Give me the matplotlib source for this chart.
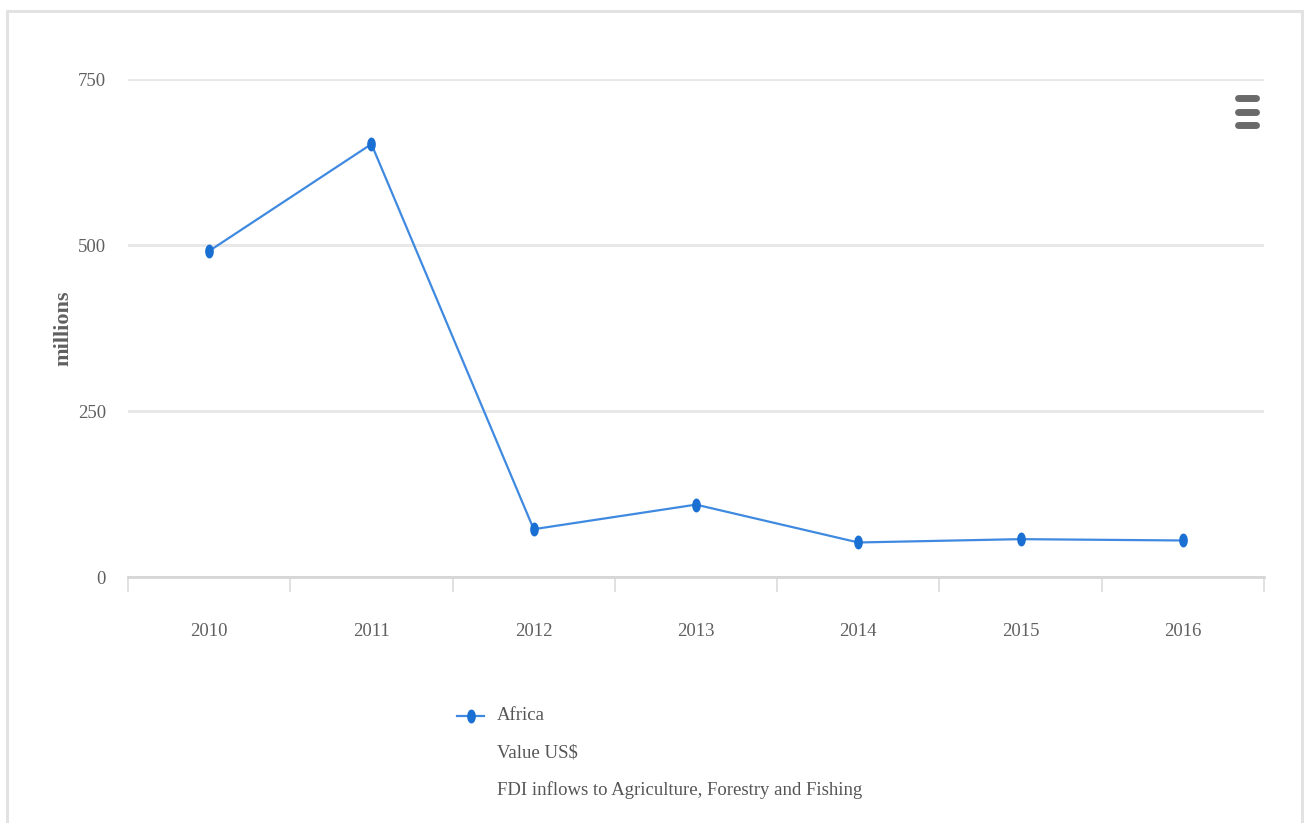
import numpy as np
import matplotlib
matplotlib.use("Agg")
import matplotlib.pyplot as plt
from matplotlib.lines import Line2D
from matplotlib.patches import Rectangle
from matplotlib.path import Path

# data
years = ["2010", "2011", "2012", "2013", "2014", "2015", "2016"]
values = [491, 652, 72, 109, 52, 57, 55]
series_name = "Africa"
legend_lines = ["Value US$", "FDI inflows to Agriculture, Forestry and Fishing"]
y_ticks = [0, 250, 500, 750]
y_label = "millions"

W, H = 1309, 823
plt.rcParams["font.family"] = ["Liberation Serif", "DejaVu Serif"]

fig = plt.figure(figsize=(W / 100, H / 100), dpi=100)
fig.patch.set_facecolor("white")


def fx(px):
    return px / W


def fy(py):
    return 1 - py / H


# outer card frame
fig.add_artist(Rectangle((fx(7), fy(900)), fx(1302) - fx(7), fy(11) - fy(900),
                         transform=fig.transFigure, fill=False,
                         edgecolor="#e2e2e2", lw=2.2))

ax = fig.add_axes([fx(128), fy(577), fx(1264) - fx(128), fy(79) - fy(577)])

# tall elliptical point marker
t = np.linspace(0, 2 * np.pi, 41)
ell = Path(np.column_stack([0.58 * np.cos(t), np.sin(t)]), closed=True)

x = np.arange(len(years))
ax.plot(x, values, color="#3f8ae0", lw=1.6, marker=ell, markersize=9,
        markerfacecolor="#1a6fd3", markeredgecolor="#1a6fd3", zorder=3)

ax.set_xlim(-0.5, len(years) - 0.5)
ax.set_ylim(0, 750)
ax.set_yticks(y_ticks)
ax.set_yticklabels([str(v) for v in y_ticks])
ax.set_xticks(x)
ax.set_xticklabels(years)
ax.set_xticks(np.arange(-0.5, len(years)), minor=True)

for s in ["top", "right", "left"]:
    ax.spines[s].set_visible(False)
ax.spines["bottom"].set_color("#d6d6d6")
ax.spines["bottom"].set_linewidth(2)

ax.grid(axis="y", color="#e8e8e8", lw=2.2)
ax.set_axisbelow(True)
ax.tick_params(axis="y", length=0, pad=16, labelsize=13.5, labelcolor="#606060")
ax.tick_params(axis="x", which="major", length=0, pad=33, labelsize=13.5,
               labelcolor="#606060")
ax.tick_params(axis="x", which="minor", length=11, width=1.2, color="#dcdcdc")

ax.set_ylabel(y_label, fontsize=16, fontweight="bold", color="#606060",
              labelpad=3)

# legend drawn by hand: symbol + three text lines
fig.add_artist(Line2D([fx(457), fx(484)], [fy(716), fy(716)],
                      transform=fig.transFigure, color="#3f8ae0", lw=1.6))
fig.add_artist(Line2D([fx(470.5)], [fy(716)], transform=fig.transFigure,
                      marker=ell, markersize=9, color="#1a6fd3", lw=0))
fig.text(fx(497), fy(716), series_name, fontsize=13.5, color="#555555",
         ha="left", va="center")
for i, txt in enumerate(legend_lines):
    fig.text(fx(497), fy(753 + 37 * i), txt, fontsize=13.5, color="#555555",
             ha="left", va="center")

# hamburger menu icon
for yy in [98, 112, 125]:
    fig.add_artist(Line2D([fx(1238), fx(1256)], [fy(yy), fy(yy)],
                          transform=fig.transFigure, color="#6a6a6a", lw=5,
                          solid_capstyle="round"))

fig.savefig("out.png", dpi=100)
